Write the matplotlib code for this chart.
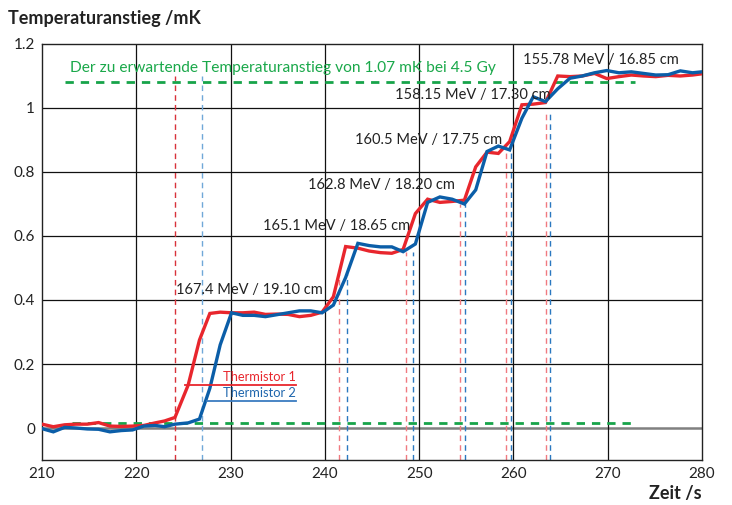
import matplotlib
matplotlib.use('Agg')
from matplotlib import pyplot as plt
import numpy as np

plt.rcParams['font.family'] = ['Lato', 'DejaVu Sans']

# time grid (s) and both thermistor readings (mK)
t = [210.0, 211.2, 212.4, 213.6, 214.8, 216.0, 217.2, 218.4, 219.6, 220.8,
     222.0, 223.0, 224.1, 225.5, 226.7, 227.8, 228.9, 230.1, 231.3, 232.5,
     233.7, 234.9, 236.1, 237.3, 238.5, 239.7, 240.9, 242.2, 243.5, 244.7,
     245.9, 247.1, 248.3, 249.6, 250.9, 252.2, 253.5, 254.8, 256.0, 257.2,
     258.4, 259.6, 260.9, 262.1, 263.4, 264.7, 266.0, 267.3, 268.6, 269.9,
     271.2, 272.5, 273.8, 275.1, 276.4, 277.7, 279.0, 280.3]
therm1 = [0.012, 0.004, 0.010, 0.012, 0.012, 0.017, 0.006, 0.005, 0.006, 0.008,
          0.016, 0.022, 0.033, 0.134, 0.275, 0.358, 0.362, 0.360, 0.360, 0.362,
          0.355, 0.356, 0.355, 0.348, 0.352, 0.362, 0.410, 0.567, 0.562, 0.553,
          0.548, 0.546, 0.558, 0.670, 0.715, 0.705, 0.708, 0.712, 0.816, 0.862,
          0.858, 0.895, 1.010, 1.012, 1.017, 1.100, 1.098, 1.100, 1.108, 1.092,
          1.098, 1.103, 1.100, 1.098, 1.102, 1.100, 1.103, 1.108]
therm2 = [-0.002, -0.012, 0.002, 0.000, -0.003, -0.004, -0.012, -0.008, -0.006, 0.006,
          0.008, 0.004, 0.012, 0.016, 0.028, 0.124, 0.260, 0.360, 0.352, 0.352,
          0.348, 0.354, 0.360, 0.366, 0.366, 0.360, 0.384, 0.470, 0.577, 0.570,
          0.566, 0.566, 0.551, 0.575, 0.705, 0.722, 0.715, 0.700, 0.744, 0.864,
          0.881, 0.869, 0.968, 1.035, 1.020, 1.060, 1.093, 1.100, 1.110, 1.117,
          1.110, 1.113, 1.108, 1.103, 1.104, 1.116, 1.110, 1.114]

# vertical markers (red / blue pairs) and where they start
mark_red = [224.1, 241.5, 248.6, 254.3, 259.2, 263.45]
mark_blue = [227.0, 242.4, 249.3, 254.9, 259.7, 263.9]
mark_top = [1.10, 0.48, 0.55, 0.70, 0.86, 0.99]

labels = ['167.4 MeV / 19.10 cm', '165.1 MeV / 18.65 cm', '162.8 MeV / 18.20 cm',
          '160.5 MeV / 17.75 cm', '158.15 MeV / 17.30 cm', '155.78 MeV / 16.85 cm']
label_x = [224.2, 233.4, 238.2, 243.2, 247.4, 261.0]
label_y = [0.43, 0.63, 0.76, 0.90, 1.04, 1.15]

expected = 1.08
baseline = 0.017

fig = plt.figure(figsize=(7.32, 5.05), dpi=100)
ax = fig.add_axes([0.0574, 0.0891, 0.9016, 0.8238])
ax.set_xlim(210, 280)
ax.set_ylim(-0.1, 1.2)
ax.set_xticks(np.arange(210, 281, 10))
ax.set_yticks([0, 0.2, 0.4, 0.6, 0.8, 1.0, 1.2])
ax.set_yticklabels(['0', '0.2', '0.4', '0.6', '0.8', '1', '1.2'])
ax.tick_params(length=0, labelsize=11, pad=5, colors='#222222')
for yy in [0.2, 0.4, 0.6, 0.8, 1.0]:
    ax.axhline(yy, color='#111111', lw=0.9, zorder=1)
ax.axhline(0, color='#808080', lw=1.8, zorder=1)
for xx in range(220, 280, 10):
    ax.axvline(xx, color='#111111', lw=0.9, zorder=1)
for s in ax.spines.values():
    s.set_linewidth(1.0)
    s.set_color('#222222')

# dashed markers
for i in range(len(mark_red)):
    c_r = '#d8323a' if i == 0 else '#f07a80'
    c_b = '#70a8d8' if i == 0 else '#2a78c0'
    ax.plot([mark_red[i], mark_red[i]], [-0.1, mark_top[i]], color=c_r, lw=1.0,
            dashes=(4, 3), zorder=2)
    ax.plot([mark_blue[i], mark_blue[i]], [-0.1, mark_top[i]], color=c_b, lw=1.0,
            dashes=(4, 3), zorder=2)

# green expected lines
ax.plot([212.4, 272.9], [expected, expected], color='#17a44a', lw=2.0, dashes=(3, 2.5), zorder=3)
ax.plot([213.2, 273.0], [baseline, baseline], color='#17a44a', lw=2.0, dashes=(3, 2.5), zorder=3)
ax.text(213.0, 1.125, 'Der zu erwartende Temperaturanstieg von 1.07 mK bei 4.5 Gy',
        color='#1aa84a', fontsize=11.2, va='center', ha='left')

ax.plot(t, therm1, color='#e8262d', lw=2.4, zorder=5, solid_joinstyle='miter')
ax.plot(t, therm2, color='#0b5ea8', lw=2.4, zorder=6, solid_joinstyle='miter')

for i in range(len(labels)):
    ax.text(label_x[i], label_y[i], labels[i], fontsize=10.5, color='#222222',
            va='center', ha='left', zorder=7)

# legend drawn as labelled lines
ax.plot([225.2, 236.9], [0.134, 0.134], color='#e8262d', lw=1.3, zorder=7)
ax.plot([227.5, 236.9], [0.084, 0.084], color='#3a7cc0', lw=1.3, zorder=7)
ax.text(236.9, 0.142, 'Thermistor 1', color='#e8262d', fontsize=9.3, ha='right', va='bottom')
ax.text(236.9, 0.092, 'Thermistor 2', color='#1f66ad', fontsize=9.3, ha='right', va='bottom')

fig.text(0.011, 0.964, 'Temperaturanstieg /mK', fontsize=13, fontweight='bold',
         color='#222222', ha='left', va='center')
fig.text(0.959, 0.022, 'Zeit /s', fontsize=13, fontweight='bold',
         color='#222222', ha='right', va='center')

plt.savefig('out.png', dpi=100)
